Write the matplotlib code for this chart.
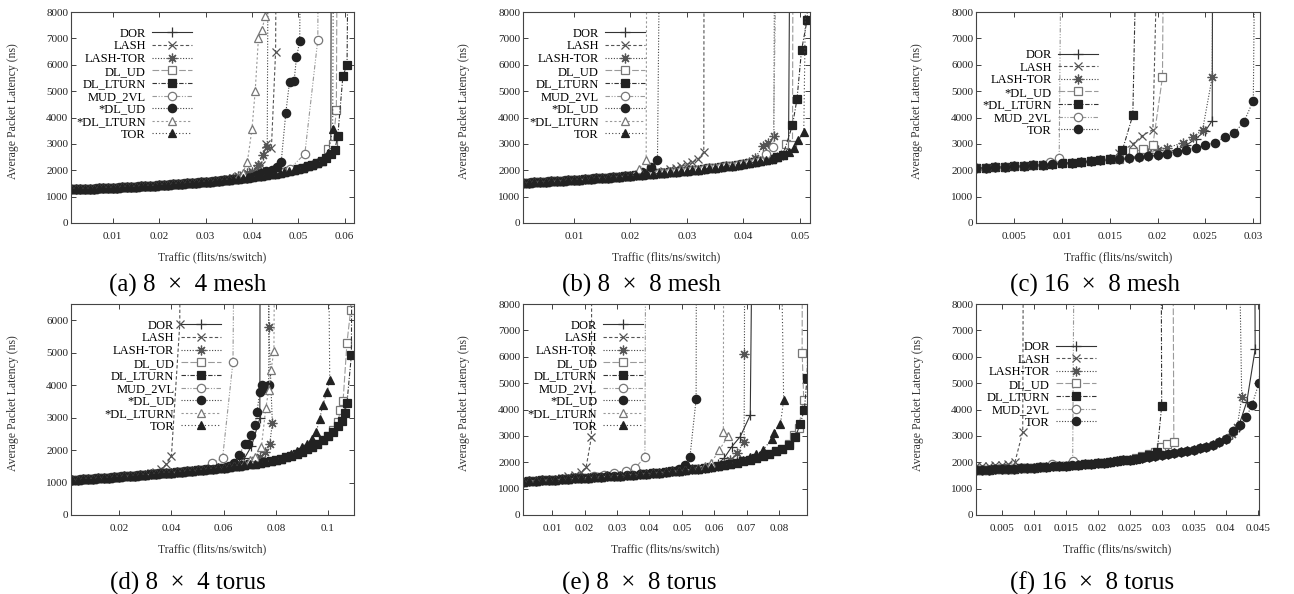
import matplotlib
matplotlib.use('Agg')
import matplotlib.pyplot as plt

plt.rcParams['font.family'] = ['Liberation Serif', 'DejaVu Serif']

W, H = 1294, 594

labels9 = ['DOR', 'LASH', 'LASH-TOR', 'DL_UD', 'DL_LTURN', 'MUD_2VL', '*DL_UD', '*DL_LTURN', 'TOR']
labels_c = ['DOR', 'LASH', 'LASH-TOR', '*DL_UD', '*DL_LTURN', 'MUD_2VL', 'TOR']
labels_f = ['DOR', 'LASH', 'LASH-TOR', 'DL_UD', 'DL_LTURN', 'MUD_2VL', 'TOR']

# ---------------- (a) 8 x 4 mesh ----------------
a_x = [0.001, 0.002, 0.003, 0.004, 0.005, 0.006, 0.007, 0.008, 0.009, 0.010,
       0.011, 0.012, 0.013, 0.014, 0.015, 0.016, 0.017, 0.018, 0.019, 0.020,
       0.021, 0.022, 0.023, 0.024, 0.025, 0.026, 0.027, 0.028, 0.029, 0.030,
       0.031, 0.032, 0.033, 0.034, 0.035, 0.036, 0.037, 0.038, 0.039, 0.040,
       0.041, 0.042, 0.043, 0.044, 0.045, 0.046, 0.047, 0.048, 0.049, 0.050,
       0.051, 0.052, 0.053, 0.054, 0.055, 0.056, 0.057, 0.058]
a_base = [1280, 1285, 1290, 1295, 1300, 1305, 1315, 1320, 1330, 1340,
          1345, 1355, 1365, 1370, 1380, 1390, 1400, 1410, 1420, 1430,
          1440, 1450, 1460, 1475, 1485, 1500, 1510, 1525, 1540, 1555,
          1570, 1585, 1600, 1620, 1640, 1655, 1675, 1695, 1720, 1740,
          1765, 1790, 1815, 1845, 1870, 1900, 1935, 1970, 2010, 2050,
          2100, 2150, 2210, 2280, 2360, 2460, 2600, 2780]
a_cut = [0.056, 0.033, 0.034, 0.055, 0.057, 0.047, 0.040, 0.036, 0.055]
a_tail_x = [
    [0.057, 0.0572],
    [0.034, 0.035, 0.036, 0.037, 0.038, 0.039, 0.040, 0.041, 0.042, 0.0431, 0.0442, 0.0451, 0.0455],
    [0.035, 0.036, 0.037, 0.038, 0.039, 0.040, 0.0413, 0.0424, 0.0433, 0.0437],
    [0.0565, 0.0575, 0.0582, 0.0586],
    [0.0578, 0.0585, 0.0596, 0.0605, 0.0612],
    [0.0481, 0.0514, 0.0542, 0.0545],
    [0.041, 0.042, 0.0431, 0.0443, 0.0455, 0.0463, 0.0473, 0.0481, 0.0491, 0.0496, 0.0503, 0.0508],
    [0.037, 0.038, 0.039, 0.040, 0.0407, 0.0414, 0.0421, 0.0429, 0.0432],
    [0.056, 0.0565, 0.0574, 0.0578],
]
a_tail_y = [
    [2700, 20000],
    [1640, 1680, 1720, 1770, 1830, 1890, 1960, 2050, 2200, 3000, 2850, 6500, 20000],
    [1680, 1720, 1770, 1830, 1890, 1950, 2200, 2580, 2900, 20000],
    [2800, 3000, 4300, 20000],
    [2750, 3280, 5560, 6000, 20000],
    [2050, 2620, 6950, 20000],
    [1820, 1880, 1960, 2020, 2120, 2300, 4170, 5350, 5400, 6280, 6890, 20000],
    [1760, 1900, 2300, 3550, 5000, 7000, 7300, 7850, 20000],
    [2500, 2650, 3580, 20000],
]

# ---------------- (b) 8 x 8 mesh ----------------
b_x = [0.001, 0.002, 0.003, 0.004, 0.005, 0.006, 0.007, 0.008, 0.009, 0.010,
       0.011, 0.012, 0.013, 0.014, 0.015, 0.016, 0.017, 0.018, 0.019, 0.020,
       0.021, 0.022, 0.023, 0.024, 0.025, 0.026, 0.027, 0.028, 0.029, 0.030,
       0.031, 0.032, 0.033, 0.034, 0.035, 0.036, 0.037, 0.038, 0.039, 0.040,
       0.041, 0.042, 0.043, 0.044, 0.045, 0.046, 0.047, 0.048, 0.049]
b_base = [1520, 1530, 1540, 1550, 1560, 1575, 1585, 1600, 1615, 1630,
          1645, 1660, 1675, 1690, 1705, 1720, 1740, 1755, 1775, 1790,
          1810, 1825, 1845, 1860, 1880, 1900, 1915, 1935, 1955, 1975,
          2000, 2020, 2045, 2070, 2095, 2120, 2150, 2180, 2210, 2240,
          2275, 2310, 2350, 2395, 2440, 2500, 2570, 2680, 2850]
b_cut = [0.047, 0.022, 0.040, 0.046, 0.047, 0.043, 0.021, 0.020, 0.049]
b_tail_x = [
    [0.048, 0.0485],
    [0.023, 0.024, 0.025, 0.026, 0.027, 0.028, 0.029, 0.030, 0.031, 0.032, 0.033, 0.0331],
    [0.041, 0.042, 0.0435, 0.0444, 0.0454, 0.0457],
    [0.0475, 0.0487, 0.0489],
    [0.0487, 0.0495, 0.0503, 0.0513, 0.0520],
    [0.044, 0.0453, 0.0465],
    [0.022, 0.0237, 0.0248, 0.0256],
    [0.0215, 0.0228, 0.0230],
    [0.0497, 0.0507, 0.0517],
]
b_tail_y = [
    [2850, 20000],
    [1880, 1910, 1950, 1990, 2040, 2090, 2150, 2220, 2300, 2420, 2700, 20000],
    [2330, 2450, 2910, 3040, 3310, 20000],
    [3000, 2950, 20000],
    [3710, 4700, 6550, 7710, 20000],
    [2600, 2870, 20000],
    [1950, 2120, 2370, 20000],
    [2050, 2370, 20000],
    [3140, 3440, 20000],
]

# ---------------- (c) 16 x 8 mesh ----------------
c_x = [0.001, 0.002, 0.003, 0.004, 0.005, 0.006, 0.007, 0.008, 0.009, 0.010,
       0.011, 0.012, 0.013, 0.014, 0.015, 0.016, 0.017, 0.018, 0.019, 0.020,
       0.021, 0.022, 0.023, 0.024, 0.025]
c_base = [2090, 2100, 2110, 2125, 2145, 2165, 2190, 2215, 2240, 2265,
          2290, 2320, 2350, 2380, 2410, 2440, 2470, 2500, 2540, 2580,
          2630, 2690, 2760, 2850, 2950]
c_cut = [0.020, 0.015, 0.018, 0.016, 0.015, 0.008, 0.025]
c_tail_x = [
    [0.021, 0.022, 0.023, 0.024, 0.025, 0.0257, 0.0258],
    [0.016, 0.0174, 0.0184, 0.0195, 0.0206],
    [0.019, 0.020, 0.021, 0.0226, 0.0237, 0.0247, 0.0257, 0.0259],
    [0.0174, 0.0185, 0.0195, 0.0205, 0.0208],
    [0.0163, 0.0174, 0.0183],
    [0.0087, 0.0097, 0.0101],
    [0.026, 0.027, 0.028, 0.029, 0.030, 0.0304],
]
c_tail_y = [
    [2680, 2780, 2950, 3200, 3500, 3880, 20000],
    [2650, 3000, 3310, 3540, 20000],
    [2650, 2750, 2850, 3040, 3250, 3540, 5530, 20000],
    [2700, 2790, 2970, 5530, 20000],
    [2750, 4090, 20000],
    [2300, 2470, 20000],
    [3040, 3250, 3420, 3820, 4640, 20000],
]

# ---------------- (d) 8 x 4 torus ----------------
d_x = [0.002, 0.004, 0.006, 0.008, 0.010, 0.012, 0.014, 0.016, 0.018, 0.020,
       0.022, 0.024, 0.026, 0.028, 0.030, 0.032, 0.034, 0.036, 0.038, 0.040,
       0.042, 0.044, 0.046, 0.048, 0.050, 0.052, 0.054, 0.056, 0.058, 0.060,
       0.062, 0.064, 0.066, 0.068, 0.070, 0.072, 0.074, 0.076, 0.078, 0.080,
       0.082, 0.084, 0.086, 0.088, 0.090, 0.092, 0.094, 0.096, 0.098, 0.100,
       0.102, 0.104, 0.106]
d_base = [1080, 1090, 1100, 1110, 1120, 1130, 1145, 1155, 1165, 1180,
          1190, 1200, 1215, 1225, 1240, 1250, 1265, 1280, 1290, 1305,
          1320, 1335, 1350, 1365, 1380, 1395, 1410, 1425, 1440, 1455,
          1475, 1495, 1515, 1540, 1560, 1585, 1610, 1640, 1670, 1700,
          1740, 1780, 1830, 1890, 1950, 2030, 2110, 2200, 2300, 2420,
          2560, 2730, 2950]
d_cut = [0.062, 0.030, 0.068, 0.100, 0.104, 0.050, 0.060, 0.066, 0.084]
d_tail_x = [
    [0.064, 0.066, 0.068, 0.0707, 0.0739, 0.0742],
    [0.032, 0.034, 0.036, 0.038, 0.040, 0.0432, 0.0438],
    [0.070, 0.072, 0.074, 0.076, 0.0777, 0.0787, 0.0773, 0.0770],
    [0.102, 0.1038, 0.1048, 0.1058, 0.1073, 0.1087, 0.1095],
    [0.1055, 0.1064, 0.1073, 0.109, 0.1098],
    [0.0554, 0.0596, 0.0636, 0.0652],
    [0.062, 0.064, 0.066, 0.0681, 0.0694, 0.0707, 0.072, 0.0728, 0.0739, 0.0747, 0.076, 0.0773, 0.0778],
    [0.068, 0.070, 0.072, 0.0745, 0.0762, 0.0773, 0.0782, 0.0793, 0.0803],
    [0.086, 0.088, 0.090, 0.092, 0.094, 0.0955, 0.0968, 0.0981, 0.0996, 0.1007, 0.0990],
]
d_tail_y = [
    [1540, 1620, 1750, 2120, 2975, 20000],
    [1290, 1340, 1420, 1560, 1820, 5880, 20000],
    [1600, 1680, 1780, 1950, 2200, 2820, 5800, 20000],
    [2620, 2850, 3250, 3500, 5300, 6300, 20000],
    [2900, 3130, 3450, 4920, 20000],
    [1590, 1745, 4720, 20000],
    [1520, 1600, 1850, 2180, 2200, 2460, 2770, 3180, 3790, 4000, 3900, 4020, 20000],
    [1580, 1680, 1800, 2100, 3300, 3850, 4480, 5050, 20000],
    [1880, 1970, 2080, 2200, 2350, 2550, 2950, 3400, 3780, 4150, 20000],
]

# ---------------- (e) 8 x 8 torus ----------------
e_x = [0.001, 0.003, 0.005, 0.007, 0.009, 0.011, 0.013, 0.015, 0.017, 0.019,
       0.021, 0.023, 0.025, 0.027, 0.029, 0.031, 0.033, 0.035, 0.037, 0.039,
       0.041, 0.043, 0.045, 0.047, 0.049, 0.051, 0.053, 0.055, 0.057, 0.059,
       0.061, 0.063, 0.065, 0.067, 0.069, 0.071, 0.073, 0.075, 0.077, 0.079,
       0.081, 0.083, 0.085, 0.087]
e_base = [1270, 1285, 1300, 1310, 1325, 1340, 1355, 1370, 1385, 1400,
          1415, 1430, 1445, 1460, 1480, 1495, 1510, 1530, 1550, 1565,
          1585, 1605, 1630, 1650, 1675, 1700, 1730, 1760, 1790, 1820,
          1860, 1900, 1940, 1990, 2040, 2100, 2170, 2240, 2320, 2410,
          2520, 2650, 2850, 3150]
e_cut = [0.059, 0.011, 0.061, 0.081, 0.083, 0.021, 0.045, 0.053, 0.065]
e_tail_x = [
    [0.061, 0.063, 0.0654, 0.068, 0.0711, 0.0724],
    [0.013, 0.015, 0.017, 0.019, 0.0205, 0.0221, 0.0223],
    [0.063, 0.065, 0.067, 0.0692, 0.0693, 0.0695],
    [0.083, 0.0845, 0.0860, 0.0876, 0.0871, 0.0873],
    [0.085, 0.0865, 0.0878, 0.0886, 0.0895],
    [0.023, 0.026, 0.029, 0.0329, 0.0357, 0.0386, 0.0391],
    [0.047, 0.049, 0.051, 0.0525, 0.0544, 0.0546],
    [0.055, 0.057, 0.059, 0.0615, 0.0642, 0.0628, 0.0630],
    [0.067, 0.069, 0.071, 0.073, 0.075, 0.0778, 0.0783, 0.0804, 0.0814, 0.0795],
]
e_tail_y = [
    [1930, 2150, 2590, 2970, 3790, 20000],
    [1400, 1460, 1530, 1620, 1830, 2960, 20000],
    [1950, 2100, 2350, 2780, 6090, 20000],
    [2700, 3030, 3300, 4350, 6160, 20000],
    [2950, 3450, 4000, 5200, 9000],
    [1460, 1520, 1600, 1680, 1800, 2190, 20000],
    [1680, 1760, 1900, 2210, 4390, 20000],
    [1800, 1860, 1980, 2450, 2990, 3130, 20000],
    [2020, 2100, 2200, 2320, 2450, 2900, 3120, 3450, 4350, 20000],
]

# ---------------- (f) 16 x 8 torus ----------------
f_x = [0.001, 0.002, 0.003, 0.004, 0.005, 0.006, 0.007, 0.008, 0.009, 0.010,
       0.011, 0.012, 0.013, 0.014, 0.015, 0.016, 0.017, 0.018, 0.019, 0.020,
       0.021, 0.022, 0.023, 0.024, 0.025, 0.026, 0.027, 0.028, 0.029, 0.030,
       0.031, 0.032, 0.033, 0.034, 0.035, 0.036, 0.037, 0.038, 0.039, 0.040,
       0.041, 0.042]
f_base = [1700, 1710, 1720, 1730, 1740, 1750, 1760, 1770, 1785, 1800,
          1810, 1825, 1840, 1850, 1865, 1890, 1905, 1925, 1945, 1965,
          1990, 2015, 2040, 2070, 2100, 2130, 2160, 2195, 2230, 2265,
          2300, 2340, 2380, 2425, 2470, 2525, 2590, 2670, 2770, 2900,
          3070, 3300]
f_cut = [0.041, 0.0, 0.041, 0.025, 0.026, 0.011, 0.040]
f_tail_x = [
    [0.042, 0.0433, 0.0446, 0.0444],
    [0.001, 0.002, 0.003, 0.004, 0.005, 0.006, 0.0071, 0.0083, 0.0085],
    [0.0418, 0.0425, 0.0415],
    [0.026, 0.027, 0.028, 0.029, 0.0299, 0.0309, 0.0319, 0.0316],
    [0.027, 0.028, 0.0293, 0.0300, 0.0298],
    [0.0129, 0.0161, 0.01655],
    [0.0412, 0.0422, 0.0432, 0.0441, 0.0452, 0.0460],
]
f_tail_y = [
    [3350, 4300, 6280, 20000],
    [1850, 1860, 1870, 1880, 1900, 1930, 2020, 3160, 20000],
    [3350, 4460, 20000],
    [2180, 2250, 2320, 2400, 2590, 2690, 2780, 20000],
    [2200, 2290, 2400, 4130, 20000],
    [1930, 2060, 20000],
    [3200, 3400, 3700, 4170, 5010, 8000],
]

# ticks
ticks_a = [0.01, 0.02, 0.03, 0.04, 0.05, 0.06]
ticks_b = [0.01, 0.02, 0.03, 0.04, 0.05]
ticks_c = [0.005, 0.01, 0.015, 0.02, 0.025, 0.03]
ticks_d = [0.02, 0.04, 0.06, 0.08, 0.1]
ticks_e = [0.01, 0.02, 0.03, 0.04, 0.05, 0.06, 0.07, 0.08]
ticks_f = [0.005, 0.01, 0.015, 0.02, 0.025, 0.03, 0.035, 0.04, 0.045]
yticks_8000 = [0, 1000, 2000, 3000, 4000, 5000, 6000, 7000, 8000]
yticks_6000 = [0, 1000, 2000, 3000, 4000, 5000, 6000]

# gnuplot-like monochrome line styles, in gnuplot's order
styles = [
    dict(color='#333333', ls='-', marker='+', ms=7, mec='#333333'),
    dict(color='#555555', ls=(0, (3, 2)), marker='x', ms=6, mec='#555555'),
    dict(color='#444444', ls=(0, (1, 1.5)), marker=(8, 2, 0), ms=7, mec='#555555'),
    dict(color='#9a9a9a', ls=(0, (6, 2)), marker='s', ms=6, mfc='white', mec='#777777'),
    dict(color='#333333', ls=(0, (4, 1.5, 1, 1.5)), marker='s', ms=6, mfc='#222222', mec='#222222'),
    dict(color='#999999', ls=(0, (4, 1.5, 1, 1.5, 1, 1.5)), marker='o', ms=6, mfc='white', mec='#777777'),
    dict(color='#444444', ls=(0, (1, 1.5)), marker='o', ms=6, mfc='#222222', mec='#222222'),
    dict(color='#999999', ls=(0, (2, 2)), marker='^', ms=6, mfc='white', mec='#777777'),
    dict(color='#444444', ls=(0, (1, 2)), marker='^', ms=6, mfc='#222222', mec='#222222'),
]


def series(x, base, cut, tx, ty):
    xs = [v for v in x if v <= cut + 1e-9]
    return xs + tx, base[:len(xs)] + ty


def panel(box, labels, x, base, cuts, tails_x, tails_y, xlim, ylim, xticks, yticks,
          leg_xy, title, title_x, title_y):
    l, t, r, b = box
    ax = fig.add_axes([l / W, 1 - b / H, (r - l) / W, (b - t) / H])
    for i, lab in enumerate(labels):
        xs, ys = series(x, base, cuts[i], tails_x[i], tails_y[i])
        st = styles[i]
        ax.plot(xs, ys, label=lab, color=st['color'], ls=st['ls'], lw=0.8,
                marker=st['marker'], ms=st['ms'], mfc=st.get('mfc', st['color']),
                mec=st['mec'], mew=0.9)
    ax.set_xlim(*xlim)
    ax.set_ylim(*ylim)
    ax.set_xticks(xticks)
    ax.set_xticklabels(['%g' % v for v in xticks])
    ax.set_yticks(yticks)
    ax.tick_params(direction='in', length=3.5, width=0.6, top=True, right=True,
                   labelsize=8, colors='#222222')
    ax.tick_params(axis='x', pad=6.5)
    ax.tick_params(axis='y', pad=2)
    for s in ax.spines.values():
        s.set_linewidth(0.8)
        s.set_color('#444444')
    ax.set_xlabel('Traffic (flits/ns/switch)', fontsize=8.5, color='#333333')
    ax.set_ylabel('Average Packet Latency (ns)', fontsize=8.5, color='#333333')
    ax.xaxis.set_label_coords(0.5, -0.135)
    ax.yaxis.set_label_coords(-0.185, 0.53)
    ax.legend(loc='upper right', bbox_to_anchor=leg_xy, frameon=False,
              markerfirst=False, handlelength=3.2, handletextpad=0.5,
              labelspacing=0.05, borderpad=0, borderaxespad=0, fontsize=9,
              numpoints=1)
    fig.text(title_x / W, 1 - title_y / H, title, fontsize=18,
             ha='center', va='center')
    return ax


fig = plt.figure(figsize=(W / 100, H / 100), dpi=100)

panel((71, 12, 354, 223), labels9, a_x, a_base, a_cut, a_tail_x, a_tail_y,
      (0.001, 0.062), (0, 8000), ticks_a, yticks_8000, (0.428, 0.925),
      '(a) 8\u2002×\u20024 mesh', 188, 285)
panel((523, 12, 810, 223), labels9, b_x, b_base, b_cut, b_tail_x, b_tail_y,
      (0.001, 0.0518), (0, 8000), ticks_b, yticks_8000, (0.425, 0.925),
      '(b) 8\u2002×\u20028 mesh', 641, 285)
panel((976, 12, 1260, 223), labels_c, c_x, c_base, c_cut, c_tail_x, c_tail_y,
      (0.001, 0.0307), (0, 8000), ticks_c, yticks_8000, (0.43, 0.825),
      '(c) 16\u2002×\u20028 mesh', 1095, 285)
panel((71, 304, 354, 515), labels9, d_x, d_base, d_cut, d_tail_x, d_tail_y,
      (0.0015, 0.11), (0, 6500), ticks_d, yticks_6000, (0.529, 0.925),
      '(d) 8\u2002×\u20024 torus', 188, 583)
panel((523, 304, 807, 515), labels9, e_x, e_base, e_cut, e_tail_x, e_tail_y,
      (0.001, 0.0886), (0, 8000), ticks_e, yticks_8000, (0.424, 0.925),
      '(e) 8\u2002×\u20028 torus', 639, 583)
panel((976, 304, 1259, 515), labels_f, f_x, f_base, f_cut, f_tail_x, f_tail_y,
      (0.001, 0.0452), (0, 8000), ticks_f, yticks_8000, (0.424, 0.825),
      '(f) 16\u2002×\u20028 torus', 1092, 583)

fig.savefig('out.png', dpi=100)
